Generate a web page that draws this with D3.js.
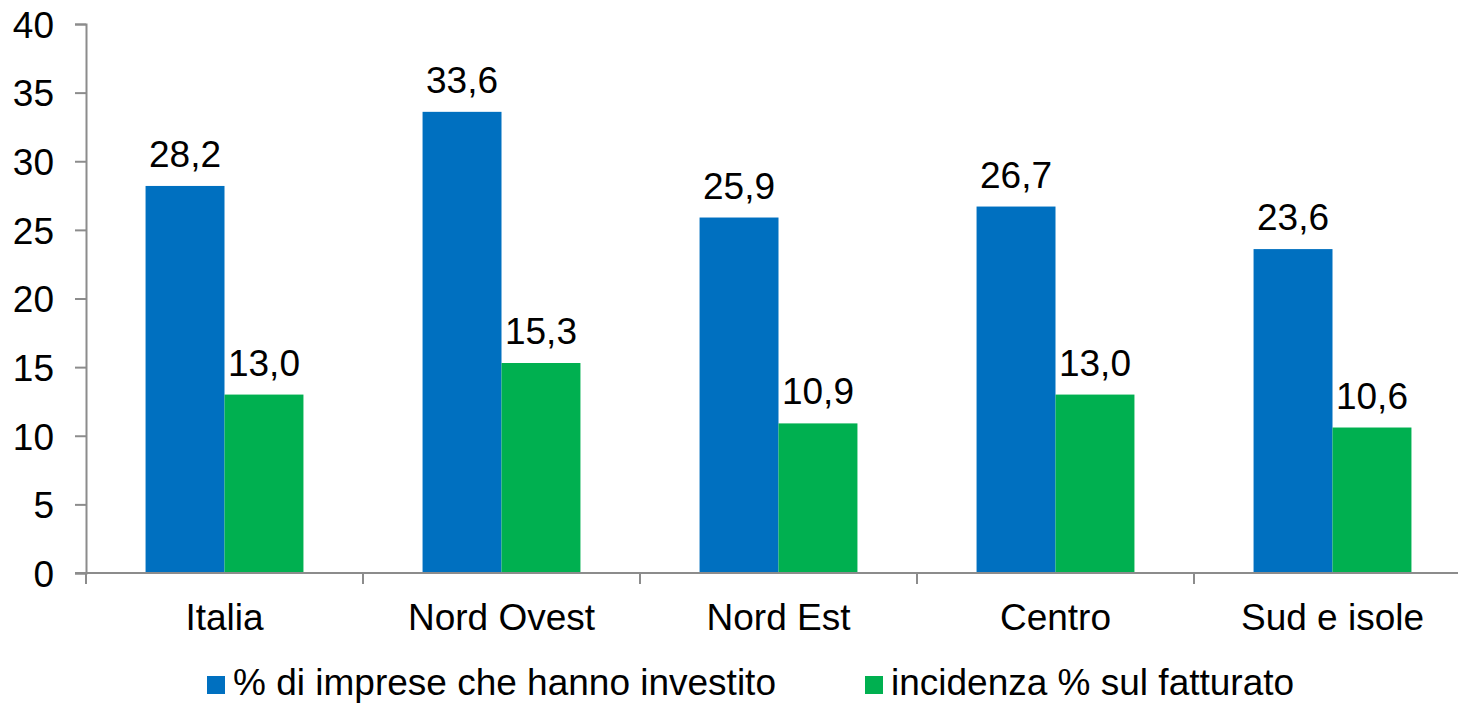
<!DOCTYPE html>
<html>
<head>
<meta charset="utf-8">
<script src="https://cdn.jsdelivr.net/npm/d3@7"></script>
<style>
  html, body { margin: 0; padding: 0; background: #fff; }
  svg { display: block; font-family: "Liberation Sans", Arial, sans-serif; }
</style>
</head>
<body>
<svg id="chart" width="1458" height="704"></svg>
<script>
// Regions and the two series plotted for each
const categories = ["Italia", "Nord Ovest", "Nord Est", "Centro", "Sud e isole"];
const seriesNames = ["% di imprese che hanno investito", "incidenza % sul fatturato"];
const investito = [28.2, 33.6, 25.9, 26.7, 23.6];
const fatturato = [13.0, 15.3, 10.9, 13.0, 10.6];
const yTicks = [0, 5, 10, 15, 20, 25, 30, 35, 40];
const colors = ["#0070C0", "#00B050"];

(function () {
  const seriesValues = [investito, fatturato];
  const rows = categories.map((c, i) => ({
    category: c,
    values: seriesNames.map((s, j) => ({ series: s, value: seriesValues[j][i] }))
  }));

  const svg = d3.select("#chart");
  const fontSize = 37;
  const axisColor = "#8c8c8c";

  // Plot frame
  const plotLeft = 86, plotBottom = 573, plotTop = 24;
  const step = 277;

  const x0 = d3.scaleBand()
    .domain(categories)
    .range([plotLeft, plotLeft + step * categories.length])
    .paddingInner(0.43)
    .paddingOuter(0.215);

  const x1 = d3.scaleBand()
    .domain(seriesNames)
    .range([0, x0.bandwidth()]);

  const y = d3.scaleLinear().domain([0, 40]).range([plotBottom, plotTop]);

  const fmt = v => d3.format(".1f")(v).replace(".", ",");

  // Bars
  const groups = svg.append("g").selectAll("g")
    .data(rows)
    .join("g")
    .attr("transform", d => `translate(${x0(d.category)},0)`);

  groups.selectAll("rect")
    .data(d => d.values)
    .join("rect")
    .attr("x", d => x1(d.series))
    .attr("y", d => y(d.value))
    .attr("width", x1.bandwidth())
    .attr("height", d => y(0) - y(d.value))
    .attr("fill", (d, i) => colors[i]);

  // Value labels above bars
  groups.selectAll("text")
    .data(d => d.values)
    .join("text")
    .attr("x", d => x1(d.series) + x1.bandwidth() / 2)
    .attr("y", d => y(d.value) - 19)
    .attr("text-anchor", "middle")
    .attr("font-size", fontSize)
    .attr("fill", "#000")
    .text(d => fmt(d.value));

  // Y axis
  const yAxis = svg.append("g")
    .attr("transform", `translate(${plotLeft},0)`)
    .call(d3.axisLeft(y).tickValues(yTicks).tickSize(11).tickPadding(21).tickFormat(d3.format("d")));
  yAxis.select(".domain").attr("stroke", axisColor).attr("stroke-width", 2);
  yAxis.selectAll(".tick line").attr("stroke", axisColor).attr("stroke-width", 2);
  yAxis.selectAll(".tick text")
    .attr("font-size", fontSize)
    .attr("font-family", "Liberation Sans, Arial, sans-serif")
    .attr("fill", "#000")
    .attr("dy", "0.36em");

  // X axis: ticks at band boundaries
  const xAxisG = svg.append("g");
  const xEnd = plotLeft + step * categories.length;
  xAxisG.append("line")
    .attr("x1", plotLeft - 11).attr("x2", xEnd)
    .attr("y1", plotBottom).attr("y2", plotBottom)
    .attr("stroke", axisColor).attr("stroke-width", 2);
  const boundaries = d3.range(categories.length + 1).map(i => plotLeft + step * i);
  xAxisG.selectAll("line.tick")
    .data(boundaries)
    .join("line")
    .attr("class", "tick")
    .attr("x1", d => d).attr("x2", d => d)
    .attr("y1", plotBottom).attr("y2", plotBottom + 11)
    .attr("stroke", axisColor).attr("stroke-width", 2);
  xAxisG.selectAll("text")
    .data(categories)
    .join("text")
    .attr("x", d => x0(d) + x0.bandwidth() / 2)
    .attr("y", 630)
    .attr("text-anchor", "middle")
    .attr("font-size", fontSize)
    .attr("fill", "#000")
    .text(d => d);

  // Legend
  const legendPos = [207, 865];
  const legend = svg.append("g").selectAll("g")
    .data(seriesNames)
    .join("g")
    .attr("transform", (d, i) => `translate(${legendPos[i]},0)`);
  legend.append("rect")
    .attr("x", 0).attr("y", 676)
    .attr("width", 18).attr("height", 18)
    .attr("fill", (d, i) => colors[i]);
  legend.append("text")
    .attr("x", 26).attr("y", 695)
    .attr("font-size", fontSize)
    .attr("fill", "#000")
    .text(d => d);
})();
</script>
</body>
</html>
